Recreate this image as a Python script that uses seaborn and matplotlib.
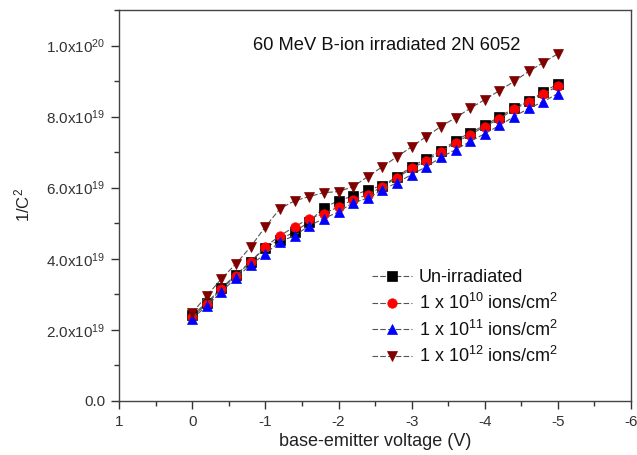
import numpy as np
import pandas as pd
import matplotlib
matplotlib.use("Agg")
import matplotlib.pyplot as plt
import seaborn as sns
from matplotlib.ticker import MultipleLocator, FixedLocator

voltage = [0.0, -0.2, -0.4, -0.6, -0.8, -1.0, -1.2, -1.4, -1.6, -1.8, -2.0, -2.2, -2.4,
           -2.6, -2.8, -3.0, -3.2, -3.4, -3.6, -3.8, -4.0, -4.2, -4.4, -4.6, -4.8, -5.0]

# values in units of 1e19
unirr = [2.42, 2.76, 3.18, 3.55, 3.92, 4.31, 4.54, 4.76, 5.04, 5.44, 5.63, 5.77, 5.94,
         6.06, 6.31, 6.59, 6.82, 7.04, 7.32, 7.55, 7.75, 8.00, 8.23, 8.45, 8.68, 8.93]
e10 = [2.37, 2.73, 3.15, 3.52, 3.92, 4.34, 4.65, 4.90, 5.13, 5.27, 5.46, 5.66, 5.80,
       6.03, 6.28, 6.54, 6.76, 7.01, 7.27, 7.49, 7.72, 7.94, 8.20, 8.42, 8.65, 8.85]
e11 = [2.31, 2.68, 3.07, 3.47, 3.83, 4.14, 4.48, 4.65, 4.93, 5.13, 5.32, 5.58, 5.70,
       5.94, 6.14, 6.37, 6.59, 6.85, 7.07, 7.30, 7.52, 7.75, 8.00, 8.23, 8.42, 8.65]
e12 = [2.48, 2.96, 3.44, 3.86, 4.34, 4.90, 5.41, 5.63, 5.75, 5.86, 5.89, 6.03, 6.31,
       6.59, 6.87, 7.15, 7.44, 7.72, 7.97, 8.23, 8.48, 8.73, 8.99, 9.27, 9.52, 9.77]

series_labels = ["Un-irradiated",
                 r"1 x 10$^{10}$ ions/cm$^{2}$",
                 r"1 x 10$^{11}$ ions/cm$^{2}$",
                 r"1 x 10$^{12}$ ions/cm$^{2}$"]
marker_colors = ["#000000", "#ff0000", "#0000ff", "#800000"]
markers = ["s", "o", "^", "v"]

y_ticks = [0.0, 2.0e19, 4.0e19, 6.0e19, 8.0e19, 1.0e20]
y_tick_labels = ["0.0", r"2.0x10$^{19}$", r"4.0x10$^{19}$", r"6.0x10$^{19}$",
                 r"8.0x10$^{19}$", r"1.0x10$^{20}$"]
x_ticks = [1, 0, -1, -2, -3, -4, -5, -6]
x_tick_labels = ["1", "0", "-1", "-2", "-3", "-4", "-5", "-6"]

title_text = "60 MeV B-ion irradiated 2N 6052"

sns.set_style("white")
plt.rcParams["font.family"] = ["Liberation Sans", "DejaVu Sans"]
plt.rcParams["mathtext.fontset"] = "custom"
plt.rcParams["mathtext.rm"] = "Liberation Sans"
plt.rcParams["mathtext.it"] = "Liberation Sans:italic"
plt.rcParams["mathtext.bf"] = "Liberation Sans:bold"

fig = plt.figure(figsize=(6.37, 4.55), dpi=100)
ax = fig.add_axes([0.187, 0.119, 0.8036, 0.859])

for vals, lab, mc, mk in zip([unirr, e10, e11, e12], series_labels, marker_colors, markers):
    df = pd.DataFrame({"V": voltage, "C": np.array(vals) * 1e19})
    sns.lineplot(data=df, x="V", y="C", ax=ax, color="#555555", linewidth=0.8,
                 linestyle=(0, (5, 2)), marker=mk, markersize=7 if mk != "o" else 6.8,
                 markerfacecolor=mc, markeredgecolor=mc, markeredgewidth=0.5,
                 label=lab, sort=False)

ax.set_xlim(1, -6)
ax.set_ylim(0, 1.1e20)
ax.xaxis.set_major_locator(FixedLocator(x_ticks))
ax.set_xticklabels(x_tick_labels)
ax.xaxis.set_minor_locator(MultipleLocator(0.5))
ax.yaxis.set_major_locator(FixedLocator(y_ticks))
ax.set_yticklabels(y_tick_labels)
ax.yaxis.set_minor_locator(MultipleLocator(1e19))

ax.tick_params(axis="both", which="major", direction="out", length=6, width=1,
               labelsize=11, color="#333333", labelcolor="#333333",
               bottom=True, left=True, top=False, right=False, pad=4)
ax.tick_params(axis="both", which="minor", direction="out", length=3.5, width=1,
               color="#333333", bottom=True, left=True, top=False, right=False)
for s in ax.spines.values():
    s.set_color("#444444")
    s.set_linewidth(1.0)

ax.set_xlabel("base-emitter voltage (V)", fontsize=13, color="#222222", labelpad=3)
ax.set_ylabel(r"1/C$^{2}$", fontsize=12, color="#222222", labelpad=10)

ax.text(0.522, 0.91, title_text, transform=ax.transAxes, ha="center", va="center",
        fontsize=13.2, color="#111111")

leg = ax.legend(loc="upper left", bbox_to_anchor=(0.48, 0.355), frameon=False,
                fontsize=13, handlelength=2.2, handletextpad=0.4, labelspacing=0.36,
                borderaxespad=0)
for t in leg.get_texts():
    t.set_color("#111111")

fig.savefig("out.png", dpi=100)
